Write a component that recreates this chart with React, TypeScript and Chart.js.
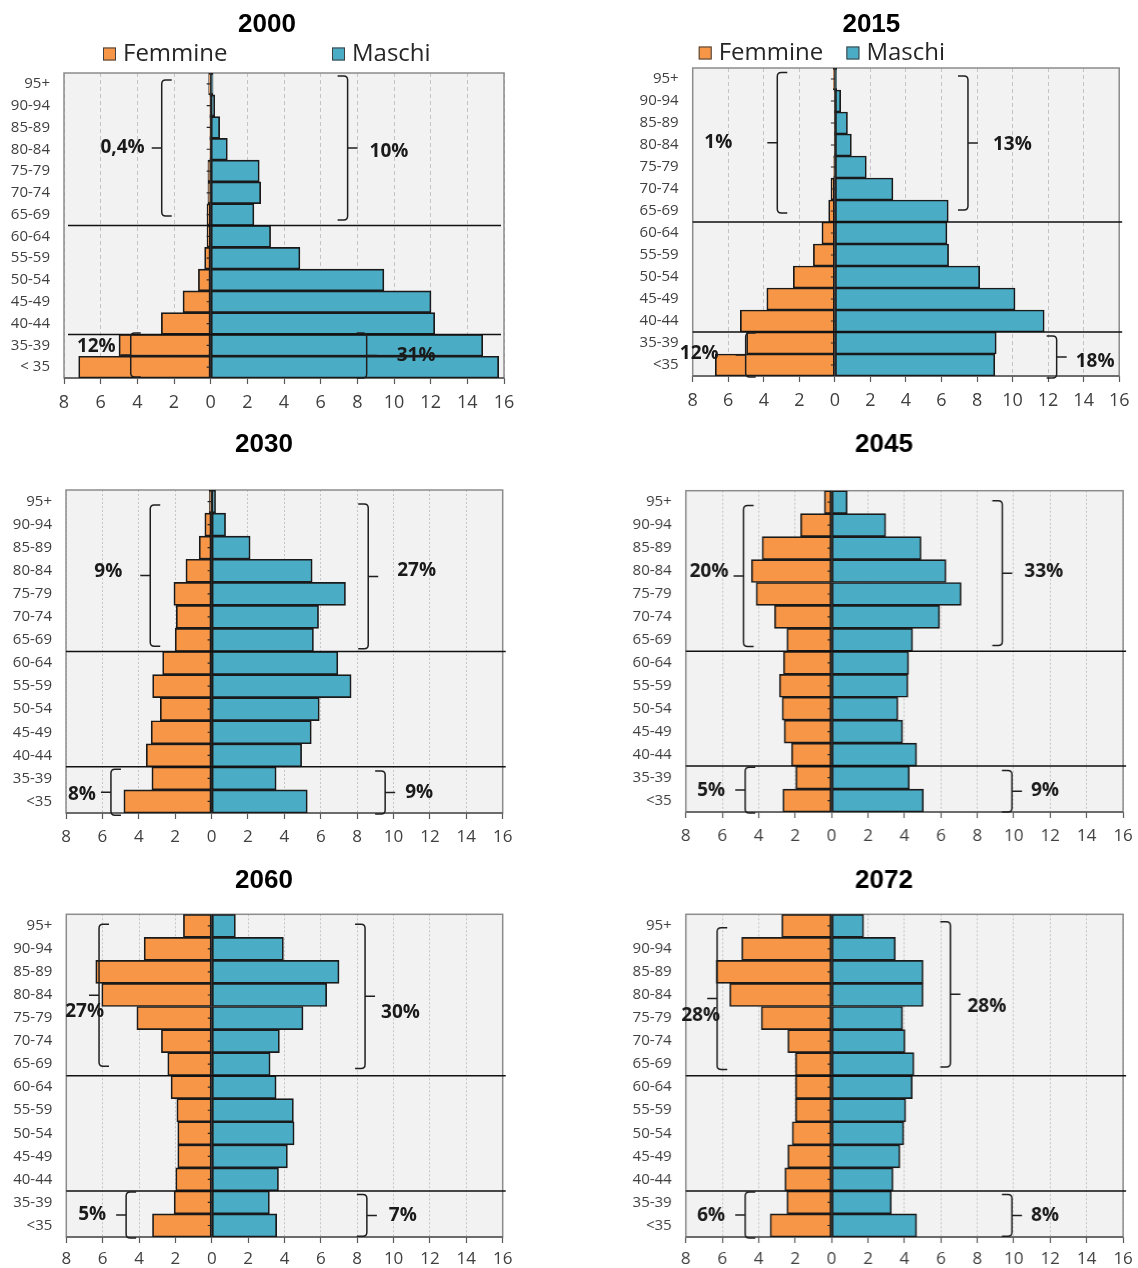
import React, { useEffect, useRef } from "react";
import { Chart, registerables } from "chart.js";

Chart.register(...registerables);

// ---------------- DATA ----------------
const AGE_GROUPS = ["95+", "90-94", "85-89", "80-84", "75-79", "70-74", "65-69", "60-64", "55-59", "50-54", "45-49", "40-44", "35-39", "<35"];
const AGE_GROUPS_2000 = ["95+", "90-94", "85-89", "80-84", "75-79", "70-74", "65-69", "60-64", "55-59", "50-54", "45-49", "40-44", "35-39", "< 35"];

const SERIES_NAMES = ["Femmine", "Maschi"];
const X_TICKS = [-8, -6, -4, -2, 0, 2, 4, 6, 8, 10, 12, 14, 16];

const FEMMINE_2000 = [0.11, 0.05, 0.05, 0.05, 0.15, 0.15, 0.2, 0.2, 0.33, 0.67, 1.51, 2.69, 5.0, 7.2];
const MASCHI_2000 = [0.13, 0.22, 0.49, 0.91, 2.65, 2.73, 2.36, 3.27, 4.87, 9.45, 12.02, 12.22, 14.84, 15.71];

const FEMMINE_2015 = [0.09, 0.04, 0.04, 0.04, 0.07, 0.22, 0.35, 0.73, 1.21, 2.34, 3.83, 5.32, 4.97, 6.73];
const MASCHI_2015 = [0.1, 0.33, 0.71, 0.93, 1.77, 3.27, 6.38, 6.31, 6.4, 8.15, 10.14, 11.78, 9.08, 9.0];

const FEMMINE_2030 = [0.13, 0.37, 0.68, 1.41, 2.07, 1.94, 2.0, 2.69, 3.24, 2.82, 3.32, 3.59, 3.28, 4.82];
const MASCHI_2030 = [0.22, 0.77, 2.12, 5.53, 7.36, 5.88, 5.6, 6.94, 7.67, 5.92, 5.48, 4.95, 3.55, 5.26];

const FEMMINE_2045 = [0.4, 1.7, 3.81, 4.4, 4.14, 3.13, 2.45, 2.64, 2.86, 2.71, 2.6, 2.2, 1.96, 2.67];
const MASCHI_2045 = [0.86, 2.97, 4.91, 6.28, 7.11, 5.93, 4.45, 4.23, 4.19, 3.64, 3.9, 4.67, 4.27, 5.04];

const FEMMINE_2060 = [1.56, 3.72, 6.38, 6.05, 4.12, 2.77, 2.42, 2.24, 1.92, 1.87, 1.87, 1.98, 2.07, 3.26];
const MASCHI_2060 = [1.3, 3.94, 7.0, 6.32, 5.02, 3.72, 3.21, 3.54, 4.49, 4.53, 4.16, 3.67, 3.17, 3.57];

const FEMMINE_2072 = [2.73, 4.93, 6.34, 5.59, 3.86, 2.4, 1.98, 1.98, 1.98, 2.16, 2.4, 2.56, 2.45, 3.37];
const MASCHI_2072 = [1.76, 3.5, 5.02, 5.02, 3.9, 4.03, 4.52, 4.43, 4.07, 3.96, 3.75, 3.37, 3.28, 4.67];

// brace labels: top-left, top-right, bottom-left, bottom-right
const BRACES_2000 = ["0,4%", "10%", "12%", "31%"];
const BRACES_2015 = ["1%", "13%", "12%", "18%"];
const BRACES_2030 = ["9%", "27%", "8%", "9%"];
const BRACES_2045 = ["20%", "33%", "5%", "9%"];
const BRACES_2060 = ["27%", "30%", "5%", "7%"];
const BRACES_2072 = ["28%", "28%", "6%", "8%"];

// ---------------- STYLE / LAYOUT ----------------
const ORANGE = "#F79646";
const BLUE = "#4BACC6";
const FONT = "'Open Sans', 'DejaVu Sans', sans-serif";

type BraceGeo = { x: number; y0: number; y1: number; dx: number; dy: number };

type Panel = {
  year: string;
  labels: string[];
  fem: number[];
  mas: number[];
  braceLabels: string[];
  braces: BraceGeo[]; // TL, TR, BL, BR
  left: number; top: number; w: number; h: number;
  padR: number; yw: number; rw: number; xh: number;
  titleTop: number; titleBottom: number;
  xPad: number; xFont: number;
  legend?: { x: number[]; y: number };
  sep: [number, number];
  dash: number[];
};

const PANELS: Panel[] = [
  {
    year: "2000", labels: AGE_GROUPS_2000, fem: FEMMINE_2000, mas: MASCHI_2000, braceLabels: BRACES_2000,
    braces: [
      { x: -2.67, y0: -0.18, y1: 6.06, dx: -7, dy: 0 },
      { x: 7.47, y0: -0.36, y1: 6.25, dx: 12, dy: 4 },
      { x: -4.36, y0: 11.43, y1: 13.45, dx: -5, dy: -8 },
      { x: 8.51, y0: 11.43, y1: 13.5, dx: 20, dy: 0 },
    ],
    left: 0, top: 0, w: 535, h: 412, padR: 1, yw: 64, rw: 30, xh: 34,
    titleTop: 9, titleBottom: 32.8, xPad: 8.5, xFont: 18,
    legend: { x: [39, 268], y: -19 }, sep: [4, -3], dash: [4, 3],
  },
  {
    year: "2015", labels: AGE_GROUPS, fem: FEMMINE_2015, mas: MASCHI_2015, braceLabels: BRACES_2015,
    braces: [
      { x: -3.24, y0: -0.29, y1: 6.09, dx: -35, dy: 0 },
      { x: 7.49, y0: -0.14, y1: 5.95, dx: 15, dy: 2 },
      { x: -5.02, y0: 11.55, y1: 13.55, dx: -17, dy: -2 },
      { x: 12.48, y0: 11.68, y1: 13.59, dx: 9, dy: 5 },
    ],
    left: 620, top: 0, w: 518, h: 410, padR: 15.3, yw: 72.7, rw: 0, xh: 34,
    titleTop: 9, titleBottom: 27.8, xPad: 8.5, xFont: 18,
    legend: { x: [6, 153.7], y: -15 }, sep: [0, 3], dash: [4, 3],
  },
  {
    year: "2030", labels: AGE_GROUPS, fem: FEMMINE_2030, mas: MASCHI_2030, braceLabels: BRACES_2030,
    braces: [
      { x: -3.37, y0: 0.15, y1: 6.27, dx: -18, dy: -4 },
      { x: 8.61, y0: 0.11, y1: 6.38, dx: 19, dy: -6 },
      { x: -5.53, y0: 11.6, y1: 13.6, dx: -5, dy: 2 },
      { x: 9.54, y0: 11.68, y1: 13.54, dx: 10, dy: 0 },
    ],
    left: 0, top: 420, w: 535, h: 427, padR: 7, yw: 66, rw: 25.3, xh: 34,
    titleTop: 9, titleBottom: 29.8, xPad: 7.5, xFont: 17,
    sep: [0, 3], dash: [2, 2],
  },
  {
    year: "2045", labels: AGE_GROUPS, fem: FEMMINE_2045, mas: MASCHI_2045, braceLabels: BRACES_2045,
    braces: [
      { x: -4.83, y0: 0.15, y1: 6.29, dx: -5, dy: -4 },
      { x: 9.37, y0: -0.06, y1: 6.25, dx: 12, dy: -2 },
      { x: -4.74, y0: 11.55, y1: 13.54, dx: -10, dy: 1 },
      { x: 9.9, y0: 11.69, y1: 13.5, dx: 9, dy: -1 },
    ],
    left: 620, top: 420, w: 527.6, h: 426, padR: 0, yw: 65.7, rw: 24.9, xh: 34,
    titleTop: 9.4, titleBottom: 30.1, xPad: 7.5, xFont: 17,
    sep: [0, 3], dash: [2, 2],
  },
  {
    year: "2060", labels: AGE_GROUPS, fem: FEMMINE_2060, mas: MASCHI_2060, braceLabels: BRACES_2060,
    braces: [
      { x: -6.2, y0: -0.07, y1: 6.09, dx: 15, dy: 16 },
      { x: 8.43, y0: -0.07, y1: 6.19, dx: 6, dy: 16 },
      { x: -4.71, y0: 11.55, y1: 13.54, dx: -10, dy: 0 },
      { x: 8.53, y0: 11.66, y1: 13.47, dx: 12, dy: 0 },
    ],
    left: 0, top: 855, w: 535, h: 412, padR: 7, yw: 66.3, rw: 25.3, xh: 30,
    titleTop: 10.4, titleBottom: 17.7, xPad: 6, xFont: 17,
    sep: [0, 3], dash: [2, 2],
  },
  {
    year: "2072", labels: AGE_GROUPS, fem: FEMMINE_2072, mas: MASCHI_2072, braceLabels: BRACES_2072,
    braces: [
      { x: -6.28, y0: 0.08, y1: 6.23, dx: 13, dy: 17 },
      { x: 6.52, y0: -0.18, y1: 6.12, dx: 7, dy: 12 },
      { x: -4.74, y0: 11.55, y1: 13.54, dx: -10, dy: 1 },
      { x: 9.9, y0: 11.66, y1: 13.47, dx: 9, dy: 0 },
    ],
    left: 620, top: 855, w: 527.6, h: 412, padR: 0, yw: 65.7, rw: 24.9, xh: 30,
    titleTop: 10.4, titleBottom: 17.7, xPad: 6, xFont: 17,
    sep: [0, 3], dash: [2, 2],
  },
];

function drawBrace(ctx: CanvasRenderingContext2D, x: number, yTop: number, yBot: number, dir: number) {
  const hook = 10, tip = 10, r = 4;
  const h = -dir;
  const ym = (yTop + yBot) / 2;
  ctx.beginPath();
  ctx.moveTo(x + h * hook, yTop);
  ctx.lineTo(x + h * r, yTop);
  ctx.quadraticCurveTo(x, yTop, x, yTop + r);
  ctx.lineTo(x, yBot - r);
  ctx.quadraticCurveTo(x, yBot, x + h * r, yBot);
  ctx.lineTo(x + h * hook, yBot);
  ctx.moveTo(x, ym);
  ctx.lineTo(x + dir * tip, ym);
  ctx.stroke();
  return { tipX: x + dir * tip, ym };
}

function makeDecor(p: Panel) {
  return {
    id: "pyramidDecor" + p.year,
    beforeDraw(chart: any) {
      const { ctx, chartArea: a } = chart;
      ctx.save();
      ctx.fillStyle = "#F2F2F2";
      ctx.fillRect(a.left, a.top, a.right - a.left, a.bottom - a.top);
      ctx.restore();
    },
    beforeDatasetsDraw(chart: any) {
      const { ctx, chartArea: a } = chart;
      ctx.save();
      ctx.strokeStyle = "#8C8C8C";
      ctx.lineWidth = 1.5;
      ctx.strokeRect(a.left, a.top, a.right - a.left, a.bottom - a.top);
      ctx.strokeStyle = "#595959";
      ctx.beginPath();
      ctx.moveTo(a.left, a.bottom);
      ctx.lineTo(a.right, a.bottom);
      ctx.stroke();
      ctx.restore();
    },
    afterDatasetsDraw(chart: any) {
      const { ctx, chartArea: a } = chart;
      const xs = chart.scales.x;
      const ys = chart.scales.y;
      const x0 = xs.getPixelForValue(0);
      ctx.save();
      // zero axis and small ticks
      ctx.strokeStyle = "#262626";
      ctx.lineWidth = 1.2;
      ctx.beginPath();
      ctx.moveTo(x0, a.top);
      ctx.lineTo(x0, a.bottom);
      for (let i = 0; i < p.labels.length; i++) {
        const y = ys.getPixelForValue(i);
        ctx.moveTo(x0 - 4, y);
        ctx.lineTo(x0, y);
      }
      ctx.stroke();
      // separator lines
      ctx.strokeStyle = "#111";
      ctx.lineWidth = 1.5;
      ctx.beginPath();
      for (const b of [6.5, 11.5]) {
        const y = ys.getPixelForValue(b);
        ctx.moveTo(a.left + p.sep[0], y);
        ctx.lineTo(a.right + p.sep[1], y);
      }
      ctx.stroke();
      // braces
      ctx.strokeStyle = "#1f1f1f";
      ctx.lineWidth = 1.5;
      ctx.fillStyle = "#1a1a1a";
      ctx.font = "bold 19px " + FONT;
      ctx.textBaseline = "middle";
      p.braces.forEach((b, i) => {
        const dir = i % 2 === 0 ? -1 : 1;
        const bx = xs.getPixelForValue(b.x);
        const yT = ys.getPixelForValue(b.y0);
        const yB = ys.getPixelForValue(b.y1);
        const { tipX, ym } = drawBrace(ctx, bx, yT, yB, dir);
        ctx.textAlign = dir < 0 ? "right" : "left";
        ctx.fillText(p.braceLabels[i], tipX + b.dx, ym + b.dy);
      });
      // legend
      if (p.legend) {
        const lg = p.legend;
        chart.data.datasets.forEach((ds: any, i: number) => {
          const bx = a.left + lg.x[i];
          const cy = a.top + lg.y;
          ctx.fillStyle = ds.backgroundColor;
          ctx.fillRect(bx, cy - 6.5, 13, 13);
          ctx.strokeStyle = "#404040";
          ctx.lineWidth = 1;
          ctx.strokeRect(bx + 0.5, cy - 6, 12, 12);
          ctx.fillStyle = "#262626";
          ctx.font = "24px " + FONT;
          ctx.textAlign = "left";
          ctx.textBaseline = "middle";
          ctx.fillText(ds.label, bx + 20, cy);
        });
      }
      ctx.restore();
    },
  };
}

function Pyramid({ p }: { p: Panel }) {
  const ref = useRef<HTMLCanvasElement>(null);
  useEffect(() => {
    if (!ref.current) return;
    const chart = new Chart(ref.current, {
      type: "bar",
      data: {
        labels: p.labels,
        datasets: [
          {
            label: SERIES_NAMES[0],
            data: p.fem.map((v) => -v),
            backgroundColor: ORANGE,
          },
          {
            label: SERIES_NAMES[1],
            data: p.mas,
            backgroundColor: BLUE,
          },
        ],
      },
      options: {
        indexAxis: "y",
        responsive: false,
        animation: false,
        maintainAspectRatio: false,
        layout: { padding: { left: 0, right: p.padR, top: 0, bottom: 0 } },
        datasets: {
          bar: {
            barPercentage: 1,
            categoryPercentage: 1,
            borderWidth: 1.7,
            borderColor: "#1a1a1a",
            borderSkipped: false,
          },
        },
        plugins: {
          legend: { display: false },
          tooltip: { enabled: false },
          title: {
            display: true,
            text: p.year,
            color: "#000",
            font: { family: "'Liberation Sans', Arial, sans-serif", size: 26, weight: "bold" },
            padding: { top: p.titleTop, bottom: p.titleBottom },
          },
        },
        scales: {
          x: {
            type: "linear",
            stacked: true,
            min: X_TICKS[0],
            max: X_TICKS[X_TICKS.length - 1],
            afterBuildTicks: (s: any) => {
              s.ticks = X_TICKS.map((v) => ({ value: v }));
            },
            afterFit: (s: any) => {
              s.height = p.xh;
            },
            ticks: {
              callback: (v: any) => String(Math.abs(Number(v))),
              color: "#404040",
              font: { family: FONT, size: p.xFont },
              padding: p.xPad,
              maxRotation: 0,
              autoSkip: false,
            },
            grid: {
              color: "#C4C4C4",
              lineWidth: 1,
              drawTicks: true,
              tickLength: 6,
              tickColor: "#595959",
              tickWidth: 1.2,
              tickBorderDash: [],
            },
            border: { display: false, dash: p.dash },
          },
          y: {
            type: "category",
            stacked: true,
            position: "left",
            afterFit: (s: any) => {
              s.width = p.yw;
            },
            ticks: {
              color: "#404040",
              font: { family: FONT, size: 15 },
              padding: 14,
              autoSkip: false,
            },
            grid: { display: false, drawTicks: false },
            border: { display: false },
          },
          yRight: {
            type: "category",
            position: "right",
            labels: p.labels,
            afterFit: (s: any) => {
              s.width = p.rw;
            },
            ticks: { display: false },
            grid: { display: false, drawTicks: false },
            border: { display: false },
          },
        },
      } as any,
      plugins: [makeDecor(p)],
    });
    return () => chart.destroy();
  }, [p]);
  return (
    <canvas
      ref={ref}
      width={p.w}
      height={p.h}
      style={{ position: "absolute", left: p.left, top: p.top, width: p.w, height: p.h }}
    />
  );
}

export default function App() {
  return (
    <div
      style={{
        position: "absolute",
        left: 0,
        top: 0,
        width: 1138,
        height: 1268,
        overflow: "hidden",
        background: "#fff",
      }}
    >
      {PANELS.map((p) => (
        <Pyramid key={p.year} p={p} />
      ))}
    </div>
  );
}
